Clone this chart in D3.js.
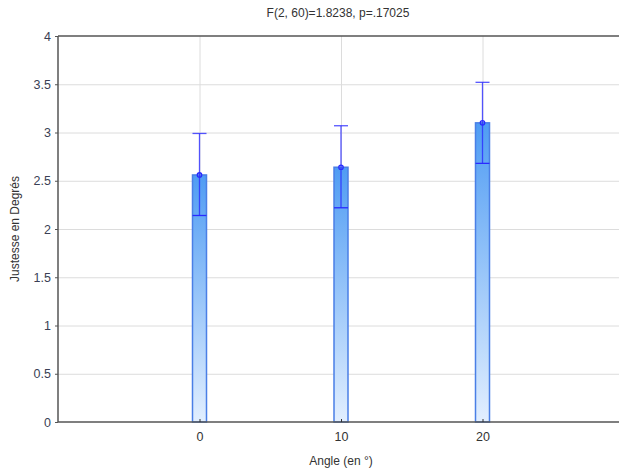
<!DOCTYPE html>
<html><head><meta charset="utf-8">
<script src="https://cdn.jsdelivr.net/npm/d3@7"></script>
<style>body{margin:0;background:#fff}svg{display:block;font-family:"Liberation Sans",Arial,sans-serif}</style>
</head><body><svg id="c" width="619" height="470"></svg>
<script>
const angles = [0, 10, 20];
const means = [2.56, 2.64, 3.10];
const upper = [2.99, 3.07, 3.52];
const lower = [2.14, 2.22, 2.68];
const yTicks = [0, 0.5, 1, 1.5, 2, 2.5, 3, 3.5, 4];
const xTicks = [0, 10, 20];
const title = "F(2, 60)=1.8238, p=.17025";
const xTitle = "Angle (en °)";
const yTitle = "Justesse en Degrés";

const svg = d3.select("#c");
const L = 58, T = 36, B = 422, R = 624;
const x = d3.scaleLinear().domain([-10, 30]).range([L, R]);
const y = d3.scaleLinear().domain([0, 4]).range([B, T]);

const defs = svg.append("defs");
const g = defs.append("linearGradient").attr("id","bg").attr("x1",0).attr("y1",0).attr("x2",0).attr("y2",1);
g.append("stop").attr("offset","0%").attr("stop-color","#4f9cf3");
g.append("stop").attr("offset","100%").attr("stop-color","#e2efff");

// grid
svg.append("g").selectAll("line").data(yTicks.slice(1,-1)).join("line")
  .attr("x1", L).attr("x2", R).attr("y1", d=>y(d)+0.5).attr("y2", d=>y(d)+0.5)
  .attr("stroke","#dcdcdc").attr("stroke-width",1);
svg.append("g").selectAll("line").data(xTicks).join("line")
  .attr("x1", d=>x(d)+0.5).attr("x2", d=>x(d)+0.5).attr("y1", T).attr("y2", B)
  .attr("stroke","#dcdcdc").attr("stroke-width",1);

// bars
const bw = 14;
svg.append("g").selectAll("rect").data(angles).join("rect")
  .attr("x", d=>x(d)-bw/2).attr("width", bw)
  .attr("y", (d,i)=>y(means[i])).attr("height", (d,i)=>y(0)-y(means[i]))
  .attr("fill","url(#bg)").attr("stroke","#4a7fe6").attr("stroke-width",1.5);

// error bars
const eb = svg.append("g").attr("stroke","#2a2aff").attr("stroke-width",1.3).attr("fill","none");
angles.forEach((a,i)=>{
  const cx = x(a);
  eb.append("line").attr("x1",cx).attr("x2",cx).attr("y1",y(upper[i])).attr("y2",y(lower[i])).attr("stroke-opacity",0.8);
  eb.append("line").attr("x1",cx-7).attr("x2",cx+7).attr("y1",y(upper[i])).attr("y2",y(upper[i])).attr("stroke-opacity",0.8);
  eb.append("line").attr("x1",cx-7).attr("x2",cx+7).attr("y1",y(lower[i])).attr("y2",y(lower[i]));
  eb.append("circle").attr("cx",cx).attr("cy",y(means[i])).attr("r",2.2);
});

// frame
const fr = svg.append("g").attr("stroke","#555").attr("stroke-width",1.5);
fr.append("line").attr("x1",L).attr("x2",L).attr("y1",T).attr("y2",B);
fr.append("line").attr("x1",L).attr("x2",619).attr("y1",T).attr("y2",T);
fr.append("line").attr("x1",L).attr("x2",619).attr("y1",B).attr("y2",B);

// axes
const ya = svg.append("g").attr("transform",`translate(${L},0)`)
  .call(d3.axisLeft(y).tickValues(yTicks).tickSize(3).tickFormat(d3.format("~g")));
ya.select(".domain").remove();
ya.selectAll("line").attr("stroke","#555");
ya.selectAll("text").attr("fill","#3a3f55").attr("font-size",12.5).attr("x",-7);

const xa = svg.append("g").attr("transform",`translate(0,${B})`)
  .call(d3.axisBottom(x).tickValues(xTicks).tickSize(-3).tickFormat(d3.format("d")));
xa.select(".domain").remove();
xa.selectAll("line").attr("stroke","#333");
xa.selectAll("text").attr("fill","#333").attr("font-size",12.5).attr("y",10);

svg.append("text").attr("x",338).attr("y",17).attr("text-anchor","middle")
  .attr("font-size",12).attr("fill","#333").text(title);
svg.append("text").attr("x",x(10)).attr("y",465).attr("text-anchor","middle")
  .attr("font-size",12).attr("fill","#333").text(xTitle);
svg.append("text").attr("transform","translate(19,229) rotate(-90)").attr("text-anchor","middle")
  .attr("font-size",12).attr("fill","#333").text(yTitle);
</script></body></html>
